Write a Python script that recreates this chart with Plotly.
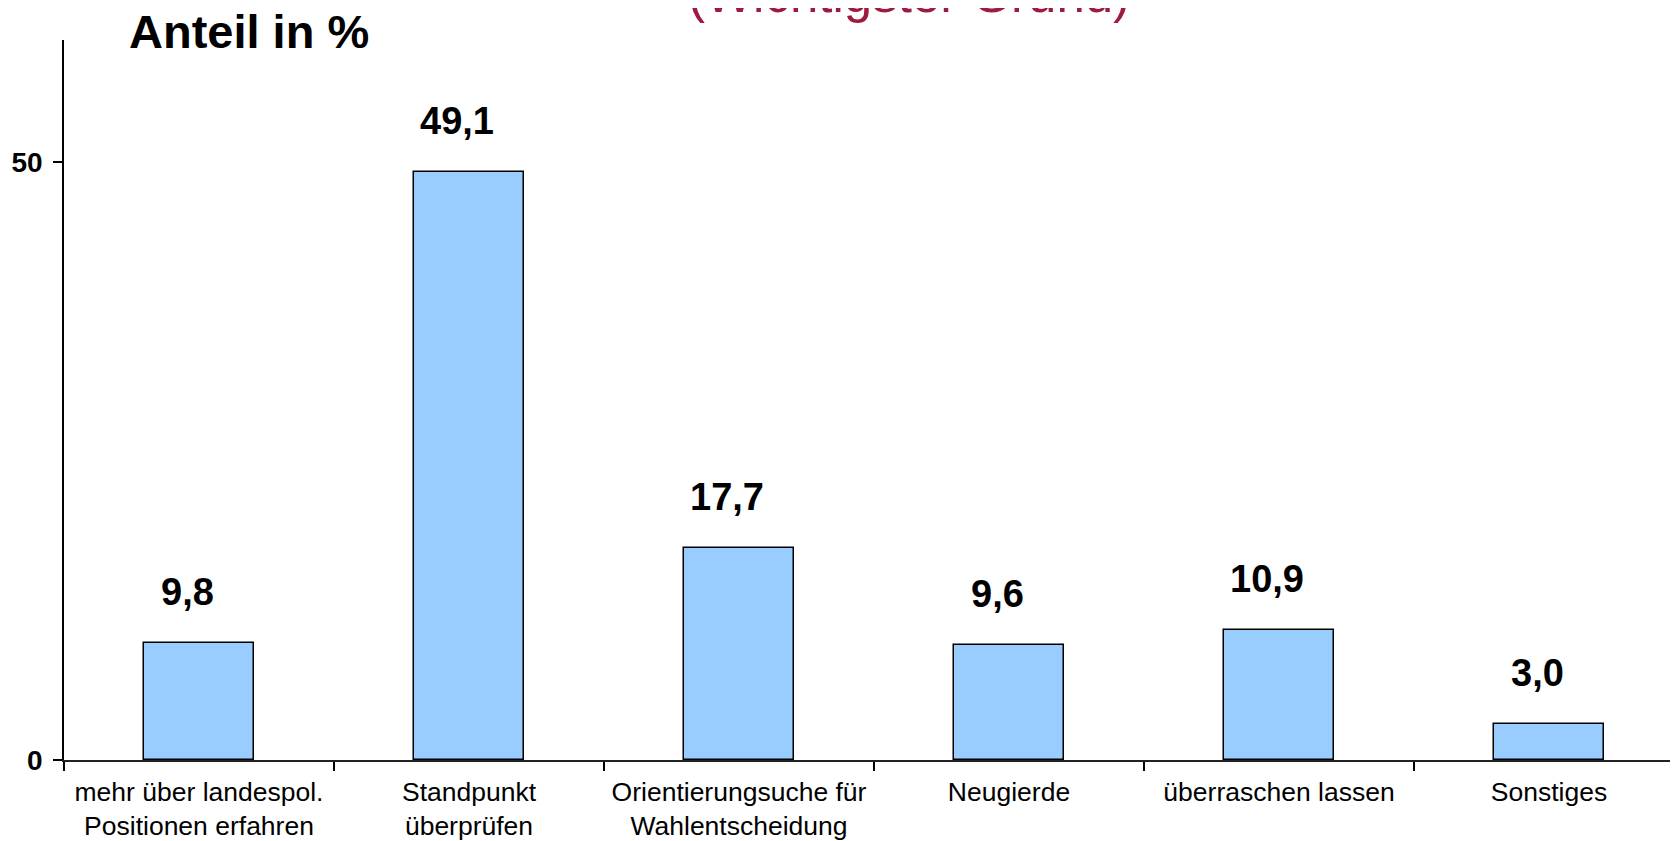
import plotly.graph_objects as go

categories = [
    "mehr über landespol.<br>Positionen erfahren",
    "Standpunkt<br>überprüfen",
    "Orientierungsuche für<br>Wahlentscheidung",
    "Neugierde",
    "überraschen lassen",
    "Sonstiges",
]
values = [9.8, 49.1, 17.7, 9.6, 10.9, 3.0]
value_labels = ["9,8", "49,1", "17,7", "9,6", "10,9", "3,0"]
y_ticks = [0, 50]
y_tick_labels = ["0", "50"]

# page has an 8px body margin; figure sized so it ends at the window edge
OFF = 8
W, H = 1678 - OFF, 841 - OFF
L, R, T, B = 64 - OFF, 0, 40 - OFF, 79
plot_w = W - L - R
plot_h = H - T - B
px_per_cat = 270

x_range = [-0.5, -0.5 + plot_w / px_per_cat]
y_range = [0, 60.17]

FONT = "Liberation Sans, Arial, sans-serif"

fig = go.Figure()
fig.add_trace(go.Bar(
    x=list(range(len(categories))),
    y=values,
    width=0.41,
    marker=dict(color="#99CCFF", line=dict(color="#000000", width=1.5)),
    hoverinfo="skip",
))

for i, (v, lab) in enumerate(zip(values, value_labels)):
    fig.add_annotation(
        x=i, y=v, xref="x", yref="y", text=f"<b>{lab}</b>",
        showarrow=False, yshift=51, xshift=-12, yanchor="middle",
        font=dict(family=FONT, size=38, color="#000000"),
    )

# page-pixel to paper coordinate helpers
def px_x(p):
    return (p - OFF - L) / plot_w

def px_y(p):
    return (OFF + T + plot_h - p) / plot_h

fig.add_annotation(
    x=px_x(127), y=px_y(31), xref="paper", yref="paper",
    text="<b>Anteil in %</b>", showarrow=False,
    xanchor="left", yanchor="middle",
    font=dict(family=FONT, size=47, color="#000000"),
)
fig.add_annotation(
    x=px_x(909), y=px_y(-6), xref="paper", yref="paper",
    text="(Wichtigster Grund)", showarrow=False,
    xanchor="center", yanchor="middle",
    font=dict(family=FONT, size=51, color="#9E1B3E"),
)

fig.update_layout(
    width=W, height=H,
    margin=dict(l=L, r=R, t=T, b=B, pad=0),
    paper_bgcolor="white", plot_bgcolor="white",
    showlegend=False,
    bargap=0,
)
fig.update_xaxes(
    type="linear",
    range=x_range,
    tickmode="array",
    tickvals=list(range(len(categories))),
    ticktext=categories,
    ticks="",
    showgrid=False, zeroline=False,
    showline=True, linecolor="#222222", linewidth=2,
    tickfont=dict(family=FONT, size=26.5, color="#000000"),
    ticklabelstandoff=7,
    fixedrange=True,
    minor=dict(
        tickmode="array",
        tickvals=[i - 0.5 for i in range(len(categories) + 1)],
        ticks="outside", ticklen=9, tickwidth=1.5, tickcolor="#000000",
        showgrid=False,
    ),
)
fig.update_yaxes(
    range=y_range,
    tickmode="array", tickvals=y_ticks, ticktext=y_tick_labels,
    ticks="outside", ticklen=9, tickwidth=1.5, tickcolor="#000000",
    showgrid=False, zeroline=False,
    showline=True, linecolor="#000000", linewidth=1.5,
    tickfont=dict(family=FONT, size=28, color="#000000", weight="bold"),
    ticklabelstandoff=5,
    fixedrange=True,
)

fig.write_html("out.html")
